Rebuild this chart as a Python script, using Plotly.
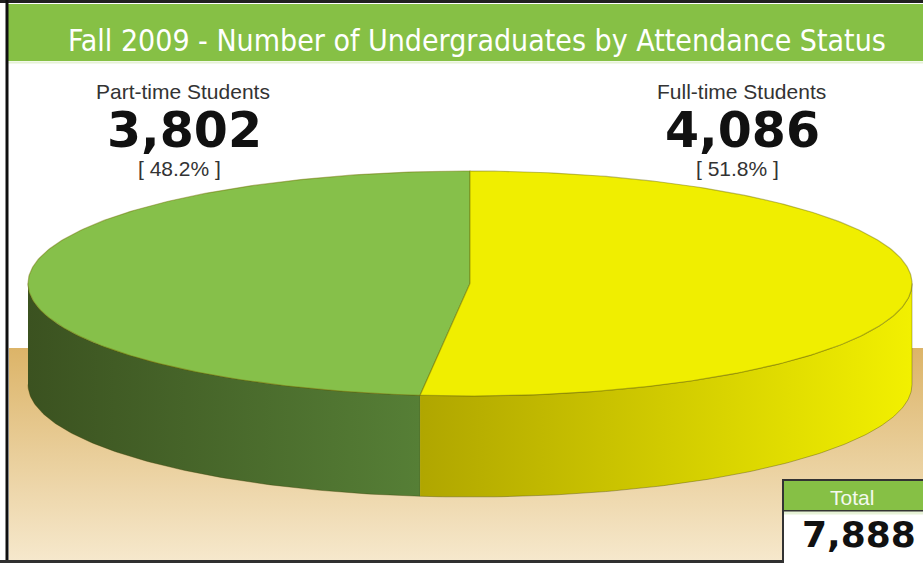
import numpy as np
import plotly.graph_objects as go

# ---------------- data ----------------
title_text = "Fall 2009 - Number of Undergraduates by Attendance Status"
categories = ["Part-time Students", "Full-time Students"]
values = [3802, 4086]
top_colors = ["#86c04a", "#f0ee00"]
side_colors = [["#3b5220", "#567f36"], ["#b0a600", "#f2f000"]]
total_label = "Total"

total = sum(values)
shares = [v / total for v in values]

# ---------------- geometry (pixel space) ----------------
W, H = 923, 563
cx, cy, rx, ry, depth = 470.0, 283.5, 442.0, 112.5, 101.0


def px(t):
    return cx + rx * np.cos(np.radians(t))


def py(t):
    return cy - ry * np.sin(np.radians(t))


# slice angle spans (counter-clockwise from the top)
spans = []
a = 90.0
for s in shares:
    spans.append((a, a + 360.0 * s))
    a += 360.0 * s

fig = go.Figure()

# background tan gradient floor
fig.add_trace(go.Scatter(
    x=[9, W, W, 9, 9], y=[348, 348, 560, 560, 348], mode="lines",
    line=dict(width=0), fill="toself",
    fillgradient=dict(type="vertical", start=348, stop=560,
                      colorscale=[[0, "#dcb468"], [1, "#f6e8cc"]]),
    hoverinfo="skip", showlegend=False))

# side faces (front visible half: 180..360 deg)
for (a0, a1), cols in zip(spans, side_colors):
    segs = []
    for k in (-360, 0, 360):
        s0, s1 = a0 + k, a1 + k
        s0c, s1c = max(s0, 180), min(s1, 360)
        if s1c > s0c:
            segs.append((s0c, s1c))
    for s0, s1 in segs:
        t = np.linspace(s0, s1, 120)
        xs = np.concatenate([px(t), px(t[::-1])])
        ys = np.concatenate([py(t), py(t[::-1]) + depth])
        fig.add_trace(go.Scatter(
            x=xs, y=ys, mode="lines", line=dict(width=1, color="rgba(60,60,0,0.35)"),
            fill="toself",
            fillgradient=dict(type="horizontal", start=float(px(s0)), stop=float(px(s1)),
                              colorscale=[[0, cols[0]], [1, cols[1]]]),
            hoverinfo="skip", showlegend=False))

# top faces
for (a0, a1), col in zip(spans, top_colors):
    t = np.linspace(a0, a1, 240)
    xs = np.concatenate([[cx], px(t), [cx]])
    ys = np.concatenate([[cy], py(t), [cy]])
    fig.add_trace(go.Scatter(
        x=xs, y=ys, mode="lines", line=dict(width=1.2, color="rgba(110,110,0,0.45)"),
        fill="toself", fillcolor=col, hoverinfo="skip", showlegend=False))

shapes = [
    # title bar
    dict(type="rect", x0=8, x1=W, y0=4, y1=61, fillcolor="#86c045", line_width=0, layer="below"),
    dict(type="line", x0=8, x1=W, y0=62.5, y1=62.5, line=dict(color="#e6f2d6", width=2), layer="below"),
    # frame
    dict(type="line", x0=0, x1=W, y0=1.5, y1=1.5, line=dict(color="#202020", width=3)),
    dict(type="line", x0=7, x1=7, y0=0, y1=H, line=dict(color="#101010", width=3)),
    dict(type="line", x0=0, x1=W, y0=561.5, y1=561.5, line=dict(color="#303030", width=3)),
    # total box
    dict(type="rect", x0=783, x1=W + 5, y0=480, y1=511, fillcolor="#86c045",
         line=dict(color="#333333", width=2)),
    dict(type="rect", x0=783, x1=W + 5, y0=511, y1=H + 5, fillcolor="#ffffff",
         line=dict(color="#333333", width=2)),
    dict(type="line", x0=784, x1=W, y0=513, y1=513, line=dict(color="#e6f2d6", width=3)),
]

label_x = [183, 741]
annotations = [
    dict(x=477, y=40, text=title_text, showarrow=False,
         font=dict(family="Liberation Sans Narrow, DejaVu Sans Condensed, Roboto", size=30, color="white")),
]
for cat, v, s, xl in zip(categories, values, shares, label_x):
    annotations += [
        dict(x=xl, y=91, text=cat, showarrow=False, borderpad=0,
             font=dict(family="Liberation Sans, Arial", size=21, color="#333333")),
        dict(x=xl + 1, y=130, text=f"{v:,}", showarrow=False, borderpad=0,
             font=dict(family="DejaVu Sans", size=49, color="#111111", weight="bold")),
        dict(x=xl - 4, y=168, text=f"[ {s*100:.1f}% ]", showarrow=False, borderpad=0,
             font=dict(family="Liberation Sans, Arial", size=21, color="#333333")),
    ]
annotations += [
    dict(x=852, y=497, text=total_label, showarrow=False,
         font=dict(family="Liberation Sans Narrow, Liberation Sans", size=21, color="#f4f9ee")),
    dict(x=859, y=534, text=f"{total:,}", showarrow=False,
         font=dict(family="DejaVu Sans", size=36, color="#111111", weight="bold")),
]

fig.update_layout(
    width=W, height=H, autosize=False,
    margin=dict(l=0, r=0, t=0, b=0),
    paper_bgcolor="white", plot_bgcolor="white",
    xaxis=dict(range=[0, W], visible=False, fixedrange=True),
    yaxis=dict(range=[H, 0], visible=False, fixedrange=True),
    shapes=shapes, annotations=annotations, showlegend=False,
)

fig.write_html("out.html", config={"displayModeBar": False},
               post_script="document.body.style.margin='0';document.body.style.overflow='hidden';")
